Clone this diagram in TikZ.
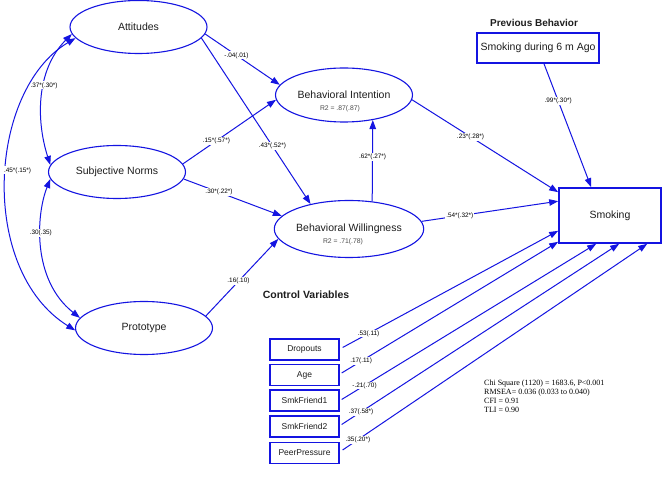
\documentclass[tikz,border=0pt]{standalone}
\usepackage{fontspec}
\setmainfont{Liberation Sans}
\newfontfamily\timesf{Liberation Serif}
\usetikzlibrary{shapes.geometric,arrows.meta}
\definecolor{lb}{RGB}{20,20,225}
\definecolor{tx}{RGB}{30,30,30}
\begin{document}
\begin{tikzpicture}[x=1pt,y=-1pt,
  lat/.style={ellipse, draw=lb, line width=1.1pt, minimum width=137pt, minimum height=53pt, inner sep=0pt, text=tx, font=\fontsize{10.5}{12}\selectfont},
  obs/.style={rectangle, draw=lb, line width=1.6pt, text=tx, inner sep=0pt, font=\fontsize{10.5}{12}\selectfont},
  ctl/.style={rectangle, draw=lb, line width=1.3pt, minimum width=69pt, minimum height=21pt, inner sep=0pt, text=tx, font=\fontsize{8.5}{10}\selectfont},
  arr/.style={draw=lb, line width=1pt, -{Triangle[length=9pt,width=6.5pt]}},
  dbl/.style={draw=lb, line width=1pt, {Triangle[length=9pt,width=6.5pt]}-{Triangle[length=9pt,width=6.5pt]}},
  lab/.style={fill=white, inner sep=1pt, text=black, font=\fontsize{6.4}{7}\selectfont},
  rsq/.style={inner sep=0pt, text=black!70, font=\fontsize{6.8}{8}\selectfont},
  ttl/.style={inner sep=0pt, text=tx, font=\bfseries\fontsize{10}{12}\selectfont},
  stats/.style={inner sep=0pt, align=left, text=black, font=\timesf\fontsize{8}{9}\selectfont}
]
\useasboundingbox[fill=white] (0,0) rectangle (670,478);

% latent variables
\node[lat] (att) at (138.5,27) {Attitudes};
\node[lat] (sn) at (117,172) {Subjective Norms};
\node[lat] (proto) at (144,328) {Prototype};
\node[lat, minimum height=54pt] (bi) at (344,95) {Behavioral Intention};
\node[rsq] (bir) at (340,108.5) {R2 = .87(.87)};
\node[lat, minimum height=57pt] (bw) at (349,229) {Behavioral Willingness};
\node[rsq] (bwr) at (343,242) {R2 = .71(.78)};

% observed
\node[obs, minimum width=102pt, minimum height=55pt] (smk) at (610,215.5) {Smoking};
\node[obs, minimum width=122pt, minimum height=30pt] (prev) at (538,48) {Smoking during 6 m Ago};
\node[ttl] (prevt) at (534,23) {Previous Behavior};
\node[ttl, font=\bfseries\fontsize{10.5}{12}\selectfont] (ctlt) at (306,294.5) {Control Variables};

\node[ctl] (drop) at (304.5,349.5) {Dropouts};
\node[ctl] (age) at (304.5,375) {Age};
\node[ctl] (sf1) at (304.5,400.5) {SmkFriend1};
\node[ctl] (sf2) at (304.5,426.5) {SmkFriend2};
\node[ctl] (peer) at (304.5,453) {PeerPressure};

% correlations
\draw[dbl] (att.186) .. controls (36,70) and (36,120) .. node[lab, pos=0.42] {.37*(.30*)} (sn.174);
\draw[dbl] (sn.186) .. controls (36,215) and (32,280) .. node[lab, pos=0.4] {.30(.35)} (proto.171);
\draw[dbl] (att.190) .. controls (-12,90) and (-22,270) .. node[lab, pos=0.47, anchor=west, xshift=-4pt] {.45*(.15*)} (proto.182);

% paths
\draw[arr] (att.354) -- node[lab, pos=0.42] {-.04(.01)} (bi.171);
\draw[arr] (att.350) -- node[lab, pos=0.65] {.43*(.52*)} (bw.147);
\draw[arr] (sn.7) -- node[lab, pos=0.36] {.15*(.57*)} (bi.184);
\draw[arr] (sn.354) -- node[lab, pos=0.36] {.30*(.22*)} (bw.169);
\draw[arr] (proto.11) -- node[lab, pos=0.45] {.16(.10)} (bw.188);
\draw[arr] (bw.50) -- node[lab, pos=0.55] {.62*(.27*)} (bi.319);
\draw[arr] (bi.356) -- node[lab, pos=0.4] {.23*(.28*)} ([yshift=-5pt]smk.north west);
\draw[arr] (bw.6) -- node[lab, pos=0.28] {.54*(.32*)} ([yshift=-14pt]smk.north west);
\draw[arr] ([xshift=6pt]prev.south) -- node[lab, pos=0.3] {.99*(.30*)} ([xshift=33pt]smk.north west);

% control variables
\draw[arr] ([xshift=3pt,yshift=2pt]drop.east) -- node[lab, pos=0.12] {.53(.11)} ([yshift=13pt]smk.south west);
\draw[arr] ([xshift=2pt,yshift=2pt]age.east) -- node[lab, pos=0.09] {.17(.11)} ([yshift=2pt]smk.south west);
\draw[arr] ([xshift=2pt,yshift=1pt]sf1.east) -- node[lab, pos=0.09] {-.21(.70)} ([xshift=38pt]smk.south west);
\draw[arr] ([xshift=2pt,yshift=2pt]sf2.east) -- node[lab, pos=0.07] {.37(.58*)} ([xshift=61pt]smk.south west);
\draw[arr] ([xshift=3pt,yshift=3pt]peer.east) -- node[lab, pos=0.05] {.35(.20*)} ([xshift=89pt]smk.south west);

% fit statistics
\node[stats, anchor=north west] (fit) at (484,380) {Chi Square (1120) = 1683.6, P<0.001\\RMSEA= 0.036 (0.033 to 0.040)\\CFI = 0.91\\TLI = 0.90};
\end{tikzpicture}
\end{document}
